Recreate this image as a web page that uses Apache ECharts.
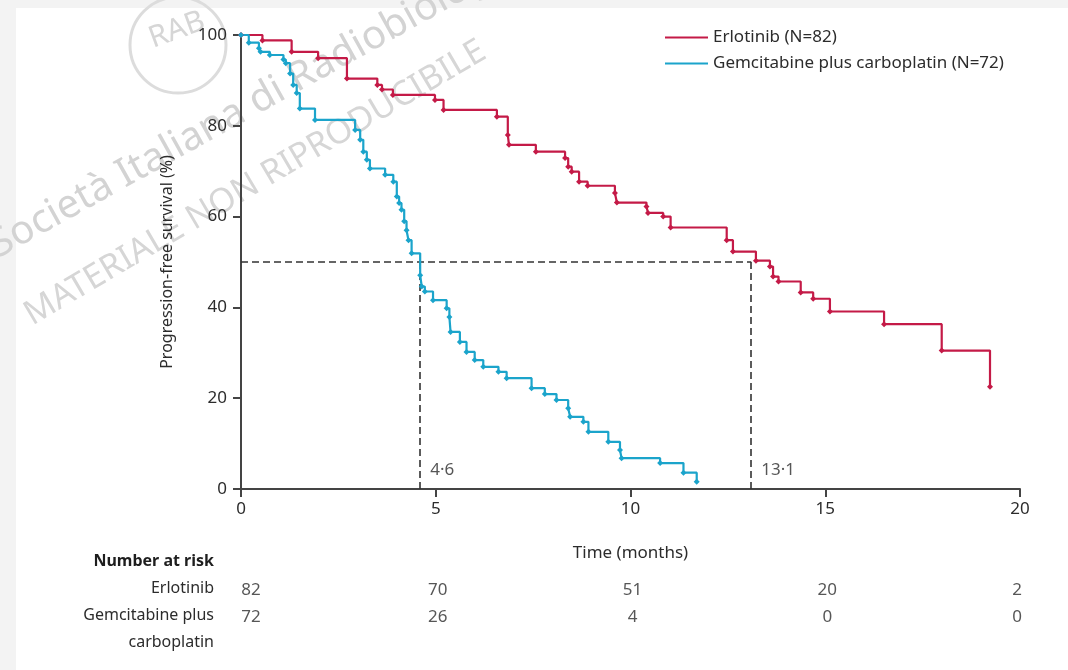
<!DOCTYPE html>
<html><head><meta charset="utf-8">
<script src="https://cdn.jsdelivr.net/npm/echarts@6/dist/echarts.min.js"></script>
<style>html,body{margin:0;padding:0;background:#fff}#c{width:1068px;height:670px}</style>
</head><body><div id="c"></div>
<script>
const erlTime = [0, 0.55, 1.3, 1.98, 2.72, 3.5, 3.62, 3.9, 4.98, 5.2, 6.57, 6.85, 6.88, 7.57, 8.32, 8.4, 8.49, 8.68, 8.9, 9.6, 9.65, 10.41, 10.45, 10.84, 11.03, 12.47, 12.63, 13.22, 13.58, 13.66, 13.8, 14.37, 14.69, 15.12, 16.51, 17.99, 19.23];
const erlSurv = [100, 98.8, 96.3, 94.9, 90.4, 89.0, 88.0, 86.8, 85.7, 83.5, 82.0, 78.0, 75.8, 74.3, 72.9, 71.0, 69.9, 67.7, 66.8, 65.2, 63.1, 62.2, 60.8, 60.0, 57.6, 54.8, 52.3, 50.3, 49.0, 46.8, 45.7, 43.3, 41.9, 39.1, 36.3, 30.5, 22.5];
const gemTime = [0, 0.2, 0.46, 0.5, 0.74, 1.09, 1.15, 1.26, 1.34, 1.43, 1.51, 1.9, 2.93, 3.06, 3.14, 3.23, 3.31, 3.7, 3.91, 4.0, 4.06, 4.12, 4.19, 4.25, 4.3, 4.38, 4.6, 4.64, 4.72, 4.93, 5.28, 5.35, 5.38, 5.62, 5.79, 6.0, 6.22, 6.61, 6.82, 7.46, 7.8, 8.1, 8.4, 8.45, 8.79, 8.92, 9.43, 9.73, 9.77, 10.76, 11.36, 11.7];
const gemSurv = [100, 98.3, 97.1, 96.3, 95.6, 94.6, 93.8, 91.5, 89.0, 87.2, 83.8, 81.3, 79.1, 76.9, 74.3, 72.5, 70.6, 69.2, 67.7, 64.4, 63.0, 61.5, 59.0, 57.0, 54.8, 51.9, 47.1, 44.6, 43.5, 41.6, 39.8, 37.9, 34.6, 32.4, 30.2, 28.4, 26.9, 25.8, 24.4, 22.2, 20.9, 19.6, 17.8, 15.9, 14.8, 12.6, 10.4, 8.6, 6.8, 5.7, 3.6, 1.6];
const seriesNames = ['Erlotinib (N=82)', 'Gemcitabine plus carboplatin (N=72)'];
const medians = [4.6, 13.1];
const medianLabels = ['4·6', '13·1'];
const riskTimes = [0, 5, 10, 15, 20];
const riskRows = ['Erlotinib', 'Gemcitabine plus carboplatin'];
const riskErl = [82, 70, 51, 20, 2];
const riskGem = [72, 26, 4, 0, 0];

const RED = '#c41a47', BLUE = '#1ba4cb', INK = '#2c2c2c';
const FONT = 'Noto Sans';
const zip = (a, b) => a.map((v, i) => [v, b[i]]);

const riskData = [];
riskTimes.forEach((t, i) => {
  const off = [i === 0 ? 10 : (i === 4 ? -3 : 2), 0];
  riskData.push({value: [t, 0, riskErl[i]], label: {offset: off}});
  riskData.push({value: [t, 1, riskGem[i]], label: {offset: off}});
});

const chart = echarts.init(document.getElementById('c'));
chart.setOption({
  backgroundColor: '#fff',
  animation: false,
  textStyle: {fontFamily: FONT},
  graphic: [
    {type: 'rect', z: -20, shape: {x: 0, y: 0, width: 16, height: 670}, style: {fill: '#f3f3f3'}},
    {type: 'rect', z: -20, shape: {x: 0, y: 0, width: 1068, height: 8}, style: {fill: '#f3f3f3'}},
    {type: 'circle', z: -10, shape: {cx: 178, cy: 45, r: 48}, style: {fill: 'none', stroke: '#dcdcdc', lineWidth: 3}},
    {type: 'text', z: -10, x: 150, y: 40, rotation: Math.PI / 9,
      style: {text: 'RAB', font: '30px "Noto Sans"', fill: '#d6d6d6', textVerticalAlign: 'middle'}},
    {type: 'text', z: -10, x: 2, y: 266, rotation: Math.PI / 6.2,
      style: {text: 'Società Italiana di Radiobiologia', font: '40px "Noto Sans"', fill: '#d3d3d3', textVerticalAlign: 'bottom'}},
    {type: 'text', z: -10, x: 36, y: 332, rotation: Math.PI / 5.9,
      style: {text: 'MATERIALE NON RIPRODUCIBILE', font: '34px "Noto Sans"', fill: '#d6d6d6', textVerticalAlign: 'bottom'}},
    {type: 'text', right: 1068 - 214, top: 553, style: {text: 'Number at risk', font: 'bold 16px "Noto Sans"', fill: '#1e1e1e', textAlign: 'right'}},
    {type: 'text', right: 1068 - 214, top: 580, style: {text: 'Erlotinib', font: '16px "Noto Sans"', fill: INK, textAlign: 'right'}},
    {type: 'text', right: 1068 - 214, top: 607, style: {text: 'Gemcitabine plus', font: '16px "Noto Sans"', fill: INK, textAlign: 'right'}},
    {type: 'text', right: 1068 - 214, top: 634, style: {text: 'carboplatin', font: '16px "Noto Sans"', fill: INK, textAlign: 'right'}}
  ],
  legend: {
    data: seriesNames, orient: 'vertical', left: 660, top: 24, itemGap: 9,
    icon: 'rect', itemWidth: 43, itemHeight: 2,
    textStyle: {fontSize: 17, color: INK, fontFamily: FONT}
  },
  grid: [
    {left: 241, right: 48, top: 35, bottom: 181},
    {left: 241, right: 48, top: 577, height: 54}
  ],
  xAxis: [
    {type: 'value', gridIndex: 0, min: 0, max: 20, interval: 5,
      name: 'Time (months)', nameLocation: 'middle', nameGap: 56,
      nameTextStyle: {fontSize: 17, color: INK, fontFamily: FONT},
      axisLine: {lineStyle: {color: '#444', width: 2}},
      axisTick: {length: 8, lineStyle: {color: '#444', width: 2}},
      axisLabel: {fontSize: 17, color: INK, margin: 12, fontFamily: FONT},
      splitLine: {show: false}},
    {type: 'value', gridIndex: 1, min: 0, max: 20, show: false}
  ],
  yAxis: [
    {type: 'value', gridIndex: 0, min: 0, max: 100, interval: 20,
      name: 'Progression-free survival (%)', nameLocation: 'middle', nameGap: 66,
      nameTextStyle: {fontSize: 16, color: INK, fontFamily: FONT},
      axisLine: {show: true, lineStyle: {color: '#444', width: 2}},
      axisTick: {show: true, length: 8, lineStyle: {color: '#444', width: 2}},
      axisLabel: {fontSize: 17, color: INK, margin: 14, fontFamily: FONT},
      splitLine: {show: false}},
    {type: 'category', gridIndex: 1, data: riskRows, inverse: true, show: false}
  ],
  series: [
    {name: seriesNames[0], type: 'line', step: 'end', data: zip(erlTime, erlSurv),
      color: RED, lineStyle: {color: RED, width: 2.2}, symbol: 'diamond', symbolSize: 6,
      itemStyle: {color: RED}, z: 5,
      markLine: {silent: true, symbol: 'none', animation: false,
        lineStyle: {color: '#333', width: 1.6, type: [7, 4]}, label: {show: false},
        data: [
          [{coord: [0, 50]}, {coord: [medians[1], 50]}],
          [{coord: [medians[0], 50]}, {coord: [medians[0], 0]}],
          [{coord: [medians[1], 50]}, {coord: [medians[1], 0]}]
        ]}},
    {name: seriesNames[1], type: 'line', step: 'end', data: zip(gemTime, gemSurv),
      color: BLUE, lineStyle: {color: BLUE, width: 2.2}, symbol: 'diamond', symbolSize: 6,
      itemStyle: {color: BLUE}, z: 5},
    {type: 'scatter', symbolSize: 0, silent: true,
      data: medians.map((m, i) => ({value: [m, 4.2], label: {formatter: medianLabels[i]}})),
      label: {show: true, position: 'right', distance: 10, fontSize: 17, color: INK, fontFamily: FONT}},
    {type: 'scatter', xAxisIndex: 1, yAxisIndex: 1, symbolSize: 0, silent: true,
      data: riskData,
      label: {show: true, position: 'inside', formatter: p => p.value[2], fontSize: 17, color: INK, fontFamily: FONT}}
  ]
});
</script></body></html>
